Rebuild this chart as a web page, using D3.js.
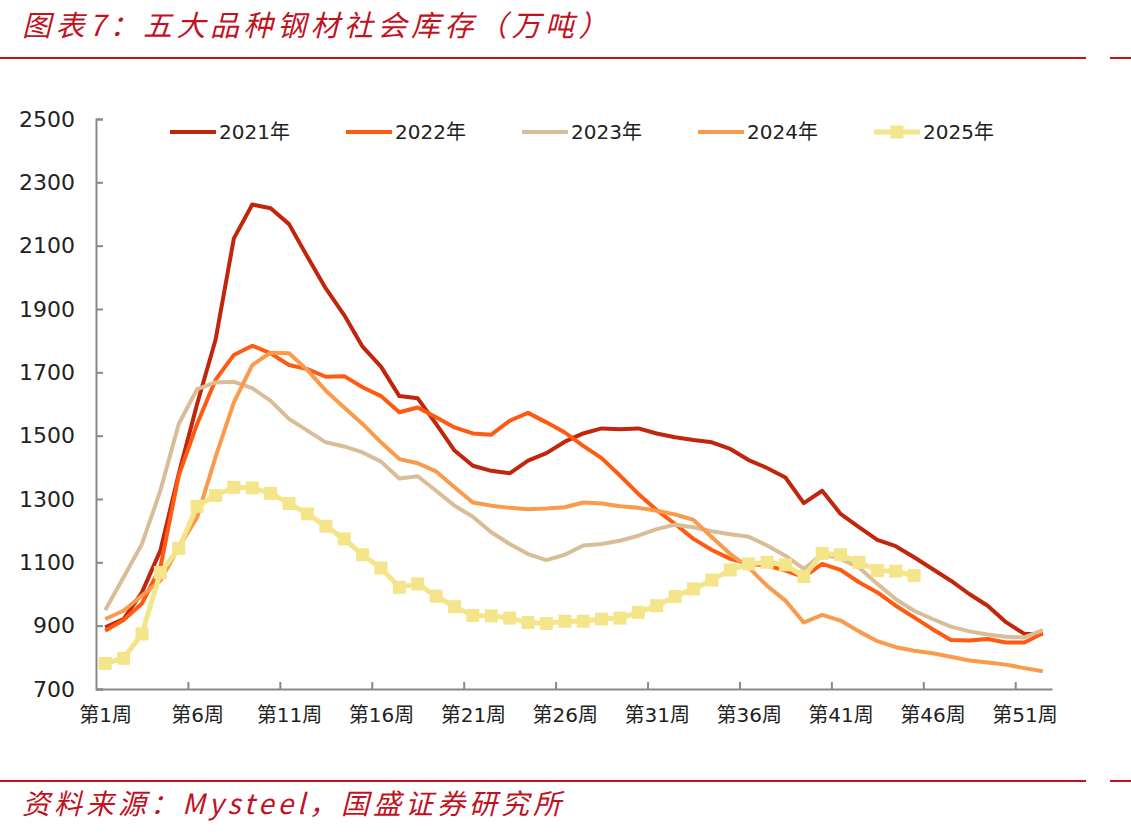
<!DOCTYPE html>
<html>
<head>
<meta charset="utf-8">
<script src="https://cdn.jsdelivr.net/npm/d3@7"></script>
<style>
  body { margin: 0; background: #fff; }
  svg text { font-family: "DejaVu Sans", "Noto Sans CJK SC", sans-serif; }
</style>
</head>
<body>
<svg id="chart" width="1131" height="835"></svg>
<script>
// weekly stock, 10k tonnes
var weeks = d3.range(1, 53);
var weekLabels = [1, 6, 11, 16, 21, 26, 31, 36, 41, 46, 51];
var yTicks = [700, 900, 1100, 1300, 1500, 1700, 1900, 2100, 2300, 2500];

var y2021 = [895, 921, 1005, 1137, 1379, 1600, 1802, 2123, 2230, 2218,
  2168, 2065, 1965, 1881, 1781, 1718, 1625, 1618, 1537, 1453,
  1405, 1389, 1381, 1421, 1445, 1481, 1507, 1523, 1520, 1523,
  1507, 1495, 1486, 1479, 1458, 1423, 1398, 1368, 1287, 1326,
  1253, 1211, 1171, 1151, 1116, 1079, 1042, 1000, 963, 911,
  874, 874];
var y2022 = [884, 918, 970, 1084, 1374, 1537, 1676, 1755, 1784, 1760,
  1723, 1710, 1686, 1688, 1653, 1625, 1574, 1589, 1558, 1526,
  1507, 1503, 1547, 1572, 1542, 1510, 1468, 1429, 1374, 1316,
  1265, 1221, 1174, 1139, 1111, 1095, 1090, 1074, 1053, 1095,
  1076, 1037, 1005, 963, 926, 889, 855, 853, 858, 847,
  847, 876];
var y2023 = [949, 1053, 1158, 1326, 1537, 1647, 1668, 1670, 1650, 1610,
  1553, 1516, 1479, 1466, 1447, 1418, 1365, 1372, 1326, 1279,
  1244, 1195, 1158, 1126, 1107, 1124, 1153, 1158, 1168, 1184,
  1205, 1219, 1211, 1198, 1189, 1181, 1153, 1121, 1079, 1126,
  1111, 1084, 1032, 984, 947, 921, 897, 882, 872, 865,
  863, 886];
var y2024 = [921, 947, 995, 1042, 1147, 1242, 1432, 1605, 1723, 1762,
  1760, 1707, 1642, 1589, 1537, 1479, 1426, 1413, 1387, 1337,
  1289, 1279, 1272, 1268, 1270, 1274, 1289, 1286, 1277, 1272,
  1263, 1251, 1234, 1179, 1126, 1084, 1026, 979, 910, 934,
  916, 882, 851, 832, 821, 813, 802, 790, 784, 777,
  766, 756];
var y2025 = [781, 797, 874, 1068, 1144, 1277, 1311, 1337, 1335, 1318,
  1286, 1253, 1214, 1174, 1124, 1082, 1021, 1032, 993, 960,
  932, 931, 924, 910, 907, 914, 914, 921, 924, 942,
  963, 992, 1016, 1044, 1076, 1095, 1100, 1092, 1055, 1128,
  1124, 1100, 1074, 1072, 1058];

var series = [
  { name: "2021年", values: y2021, color: "#C1260D", width: 4 },
  { name: "2022年", values: y2022, color: "#FF5A12", width: 4 },
  { name: "2023年", values: y2023, color: "#D8BD97", width: 4 },
  { name: "2024年", values: y2024, color: "#FA9A4A", width: 4 },
  { name: "2025年", values: y2025, color: "#F4E58A", width: 5, marker: true }
];

var svg = d3.select("#chart");
var red = "#C1121F";

// header and footer
svg.append("text").attr("x", 22).attr("y", 36)
  .attr("font-size", 29).attr("font-style", "italic").attr("fill", red)
  .attr("letter-spacing", 4.5)
  .style("font-family", "'Noto Sans CJK SC', sans-serif")
  .text("图表7：五大品种钢材社会库存（万吨）");
svg.append("rect").attr("x", 0).attr("y", 57).attr("width", 1086).attr("height", 2).attr("fill", red);
svg.append("rect").attr("x", 1110).attr("y", 57).attr("width", 21).attr("height", 2).attr("fill", red);
svg.append("rect").attr("x", 0).attr("y", 780).attr("width", 1086).attr("height", 2).attr("fill", red);
svg.append("rect").attr("x", 1110).attr("y", 780).attr("width", 21).attr("height", 2).attr("fill", red);
svg.append("text").attr("x", 22).attr("y", 814)
  .attr("font-size", 28).attr("font-style", "italic").attr("fill", red)
  .attr("letter-spacing", 4)
  .style("font-family", "'Noto Sans CJK SC', sans-serif")
  .text("资料来源：Mysteel，国盛证券研究所");

var xScale = d3.scaleLinear().domain([0.5, 52.5]).range([96, 1052]);
var yScale = d3.scaleLinear().domain([700, 2500]).range([689, 119]);

// axes
var gx = svg.append("g").attr("transform", "translate(0,689)")
  .call(d3.axisBottom(xScale).tickValues(weekLabels).tickSize(0).tickPadding(19)
    .tickFormat(function (d) { return "第" + d + "周"; }));
gx.selectAll("text").attr("font-size", 20).attr("fill", "#222")
  .style("font-family", "'DejaVu Sans', 'Noto Sans CJK SC', sans-serif");
gx.select(".domain").attr("stroke", "#888").attr("stroke-width", 2);

var gxt = svg.append("g").attr("transform", "translate(0,689)")
  .call(d3.axisBottom(xScale).tickValues(weekLabels.slice(1).map(function (d) { return d - 0.5; }))
    .tickSize(-7).tickFormat(""));
gxt.select(".domain").remove();
gxt.selectAll("line").attr("stroke", "#888").attr("stroke-width", 2);

var gy = svg.append("g").attr("transform", "translate(96,0)")
  .call(d3.axisLeft(yScale).tickValues(yTicks).tickSize(-7).tickPadding(21).tickFormat(d3.format("d")));
gy.selectAll("text").attr("font-size", 22).attr("fill", "#222");
gy.select(".domain").attr("stroke", "#888").attr("stroke-width", 2);
gy.selectAll("line").attr("stroke", "#888").attr("stroke-width", 2);

// lines
var line = d3.line()
  .x(function (d, i) { return xScale(i + 1); })
  .y(function (d) { return yScale(d); });

series.forEach(function (s) {
  svg.append("path")
    .datum(s.values)
    .attr("fill", "none")
    .attr("stroke", s.color)
    .attr("stroke-width", s.width)
    .attr("stroke-linejoin", "round")
    .attr("d", line);
  if (s.marker) {
    svg.selectAll(null)
      .data(s.values)
      .enter().append("rect")
      .attr("x", function (d, i) { return xScale(i + 1) - 6.5; })
      .attr("y", function (d) { return yScale(d) - 6.5; })
      .attr("width", 13).attr("height", 13)
      .attr("fill", s.color);
  }
});

// legend
var legend = svg.append("g").attr("transform", "translate(170,132)");
series.forEach(function (s, i) {
  var g = legend.append("g").attr("transform", "translate(" + (i * 176) + ",0)");
  g.append("line").attr("x1", 0).attr("x2", 46).attr("y1", 0).attr("y2", 0)
    .attr("stroke", s.color).attr("stroke-width", s.width);
  if (s.marker) {
    g.append("rect").attr("x", 16.5).attr("y", -6.5).attr("width", 13).attr("height", 13).attr("fill", s.color);
  }
  g.append("text").attr("x", 49).attr("y", 7).attr("font-size", 20).attr("fill", "#222")
    .style("font-family", "'DejaVu Sans', 'Noto Sans CJK SC', sans-serif")
    .text(s.name);
});
</script>
</body>
</html>
